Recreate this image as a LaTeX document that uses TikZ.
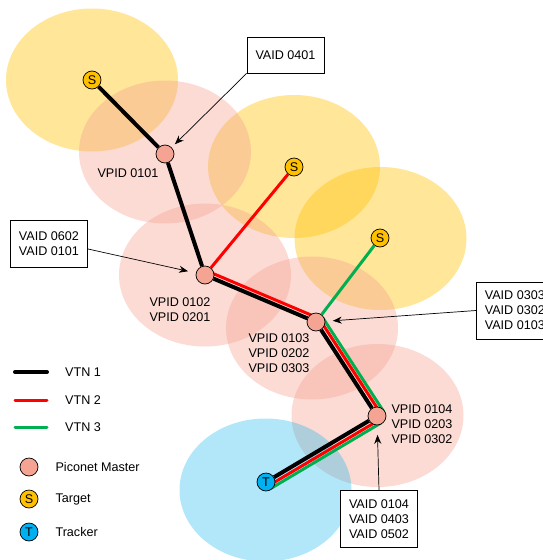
\documentclass[tikz,border=0pt]{standalone}
\usepackage{fontspec}
\setmainfont{Liberation Sans}
\usetikzlibrary{positioning,arrows.meta,calc}
\pgfdeclarelayer{zones}
\pgfdeclarelayer{links}
\pgfsetlayers{zones,links,main}
\definecolor{targetfill}{HTML}{FFC000}
\definecolor{masterfill}{HTML}{F5A493}
\definecolor{trackerfill}{HTML}{00B0F0}
\definecolor{vtngreen}{HTML}{00B050}
\tikzset{
  every node/.style={font=\fontsize{12.6pt}{15pt}\selectfont},
  zone/.style={fill=#1, fill opacity=0.4},
  master/.style={circle, draw, line width=0.7pt, fill=masterfill, minimum size=18pt, inner sep=0pt},
  target/.style={master, fill=targetfill},
  tracker/.style={master, fill=trackerfill},
  vpid/.style={align=left, inner sep=0pt},
  vaid/.style={draw, line width=0.7pt, fill=white, align=left, inner xsep=8.5pt, inner ysep=2pt},
  callout/.style={-{Stealth[length=9pt,width=7pt]}, line width=0.7pt},
  legend/.style={inner sep=0pt, anchor=west},
  vtn1/.style={line width=4pt, black},
  vtn2/.style={line width=3pt, red},
  vtn3/.style={line width=3pt, vtngreen},
}
\begin{document}
\begin{tikzpicture}[x=1pt,y=-1pt]
  \useasboundingbox (0,0) rectangle (543,560);
  \def\rx{86}     % zone radius, horizontal
  \def\ry{71.5}   % zone radius, vertical
  \def\dr{4.5}    % VTN 2 offset
  \def\dg{8}      % VTN 3 offset
  % nodes of the tree
  \node[target] (s1) at (92,80) {S};
  \node[target] (s2) at (294,167) {S};
  \node[target] (s3) at (380,238) {S};
  \node[master] (m1) at (165,154) {};
  \node[master] (m2) at (205,275) {};
  \node[master] (m3) at (316,322) {};
  \node[master] (m4) at (377,416) {};
  \node[tracker] (t) at (266,482) {T};
  % coverage zones
  \begin{pgfonlayer}{zones}
    \fill[zone=targetfill] (92,80) ellipse [x radius=\rx, y radius=\ry];
    \fill[zone=targetfill] (294,166.5) ellipse [x radius=\rx, y radius=\ry];
    \fill[zone=targetfill] (380.5,238.5) ellipse [x radius=\rx, y radius=\ry];
    \fill[zone=masterfill] (165,152) ellipse [x radius=\rx, y radius=\ry];
    \fill[zone=masterfill] (205,275) ellipse [x radius=\rx, y radius=\ry];
    \fill[zone=masterfill] (312,328) ellipse [x radius=\rx, y radius=\ry];
    \fill[zone=masterfill] (377.5,415.5) ellipse [x radius=\rx, y radius=\ry];
    \fill[zone=trackerfill, fill opacity=0.3] (265.5,490) ellipse [x radius=\rx, y radius=\ry];
  \end{pgfonlayer}
  % virtual tracking networks
  \begin{pgfonlayer}{links}
    \draw[vtn1] (s1) -- (m1) -- (m2) -- (m3) -- (m4) -- (t);
    \draw[vtn2] (s2) -- (m2);
    \draw[vtn2] ($(m2)!\dr pt!90:(m3)$) -- ($(m3)!\dr pt!-90:(m2)$);
    \draw[vtn2] ($(m3)!\dr pt!90:(m4)$) -- ($(m4)!\dr pt!-90:(m3)$);
    \draw[vtn2] ($(m4)!\dr pt!90:(t)$) -- ($(t)!\dr pt!-90:(m4)$);
    \draw[vtn3] (s3) -- (m3);
    \draw[vtn3] ($(m3)!\dg pt!90:(m4)$) -- ($(m4)!\dg pt!-90:(m3)$);
    \draw[vtn3] ($(m4)!\dg pt!90:(t)$) -- ($(t)!\dg pt!-90:(m4)$);
  \end{pgfonlayer}
  % VPID labels
  \node[vpid] (p1) at (128,173) {VPID 0101};
  \node[vpid] (p2) at (180,310) {VPID 0102\\VPID 0201};
  \node[vpid] (p3) at (279,353) {VPID 0103\\VPID 0202\\VPID 0303};
  \node[vpid] (p4) at (422,424) {VPID 0104\\VPID 0203\\VPID 0302};
  % VAID boxes
  \node[vaid, minimum height=36pt] (b0401) at (285.5,55) {VAID 0401};
  \node[vaid, minimum height=47pt] (b0602) at (49,243.5) {VAID 0602\\VAID 0101};
  \node[vaid, minimum height=57pt, anchor=west] (b0303) at (476,310.5) {VAID 0303\\VAID 0302\\VAID 0103};
  \node[vaid, minimum height=57pt] (b0104) at (379,519) {VAID 0104\\VAID 0403\\VAID 0502};
  \draw[callout, shorten >=4.5pt] (b0401.south west) -- (m1);
  \draw[callout, shorten >=8pt] (b0602.-8) -- (m2);
  \draw[callout, shorten >=7.5pt] (b0303.west) -- (m3);
  \draw[callout, shorten >=9.5pt] (b0104.north) -- (m4);
  % legend
  \coordinate (k1a) at (15,372); \coordinate (k1b) at (47,372);
  \coordinate (k2a) at (15,400); \coordinate (k2b) at (47,400);
  \coordinate (k3a) at (15,427); \coordinate (k3b) at (47,427);
  \draw[vtn1, line cap=round] (k1a) -- (k1b);
  \draw[vtn2, line cap=round] (k2a) -- (k2b);
  \draw[vtn3, line cap=round] (k3a) -- (k3b);
  \node[legend, right=18pt of k1b] (kv1) {VTN 1};
  \node[legend, right=18pt of k2b] (kv2) {VTN 2};
  \node[legend, right=18pt of k3b] (kv3) {VTN 3};
  \node[master] (kmaster) at (29,467) {};
  \node[target] (ktarget) at (29,499) {S};
  \node[tracker] (ktracker) at (29,532) {T};
  \node[legend, right=17pt of kmaster] (kmastertxt) {Piconet Master};
  \node[legend, right=17pt of ktarget] (ktargettxt) {Target};
  \node[legend, right=17pt of ktracker] (ktrackertxt) {Tracker};
\end{tikzpicture}
\end{document}
